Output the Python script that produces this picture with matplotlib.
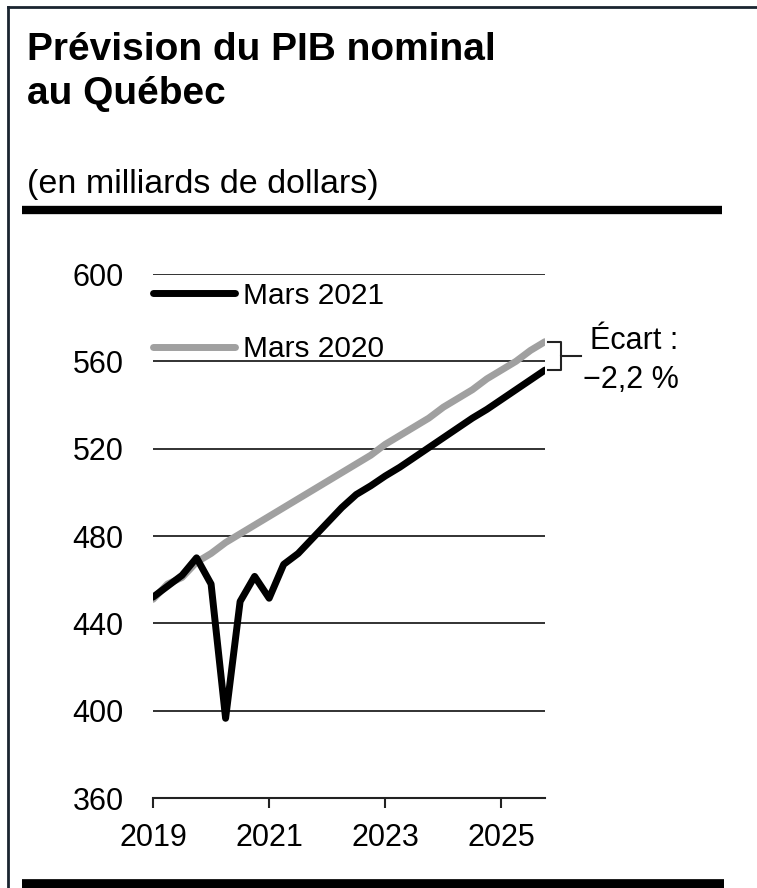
#!/usr/bin/env python3
# -*- coding: utf-8 -*-

import matplotlib
matplotlib.use('Agg')
import matplotlib.pyplot as plt
from matplotlib.lines import Line2D
import numpy as np

plt.rcParams['font.family'] = ['Liberation Sans', 'DejaVu Sans']

# Données trimestrielles 2019T1 - 2025T4 (en milliards de dollars)
trimestres = 2019 + np.arange(28) / 4
mars_2021 = [452, 457, 462, 470, 458, 396.5, 450, 461.5, 451.5, 467, 472, 479,
             486, 493, 499, 503, 507.5, 511.5, 516, 520.5, 525, 529.5, 534, 538,
             542.5, 547, 551.5, 556]
mars_2020 = [451, 458, 461, 468, 472, 477, 481, 485, 489, 493, 497, 501,
             505, 509, 513, 517, 522, 526, 530, 534, 539, 543, 547, 552,
             556, 560, 565, 569]
yticks = [360, 400, 440, 480, 520, 560, 600]
xticks = [2019, 2021, 2023, 2025]

W, H = 757, 888
fig = plt.figure(figsize=(W / 100, H / 100), dpi=100)

def fx(px):
    return px / W

def fy(py):
    return 1 - py / H

# cadre
fig.add_artist(Line2D([fx(8), fx(8)], [fy(7), 0], color='#1a2530', lw=2))
fig.add_artist(Line2D([fx(8), 1], [fy(7), fy(7)], color='#1a2530', lw=2))
fig.add_artist(Line2D([fx(22), fx(722)], [fy(210), fy(210)], color='black', lw=6, solid_capstyle='butt'))
fig.add_artist(Line2D([fx(22), fx(724)], [fy(884), fy(884)], color='black', lw=7, solid_capstyle='butt'))

fig.text(fx(27), fy(32), 'Prévision du PIB nominal\nau Québec', fontsize=28,
         fontweight='bold', va='top', ha='left', linespacing=1.3)
fig.text(fx(27), fy(184), '(en milliards de dollars)', fontsize=24.5, va='center', ha='left')

ax = fig.add_axes([fx(153), fy(798), fx(545) - fx(153), fy(274) - fy(798)])

ax.plot(trimestres, mars_2021, color='black', lw=5, label='Mars 2021',
        solid_joinstyle='round', solid_capstyle='round', zorder=3)
ax.plot(trimestres, mars_2020, color='#a0a0a0', lw=5, label='Mars 2020',
        solid_joinstyle='round', solid_capstyle='round', zorder=2)

ax.set_xlim(trimestres[0], trimestres[-1])
ax.set_ylim(yticks[0], yticks[-1])
ax.set_yticks(yticks)
ax.set_xticks(xticks)
ax.set_xticklabels([str(t) for t in xticks])
for y in yticks[1:]:
    ax.axhline(y, color='#222222', lw=1.3, zorder=1)

for s in ['top', 'right', 'left']:
    ax.spines[s].set_visible(False)
ax.spines['bottom'].set_linewidth(1.5)
ax.spines['bottom'].set_color('#222222')
ax.tick_params(axis='y', length=0, pad=21, labelsize=22)
ax.tick_params(axis='x', length=7, width=1.5, color='#222222', pad=11, labelsize=22, direction='out')

leg = ax.legend(loc='upper left', bbox_to_anchor=(0, 0.985), frameon=False, fontsize=21.5,
                handlelength=2.75, handletextpad=0.25, labelspacing=0.85, borderpad=0,
                borderaxespad=0)

# accolade de l'écart
x1 = trimestres[-1]
xs = x1 + 0.06
xb = x1 + 0.28
xt = x1 + 0.62
ym = (mars_2020[-1] + mars_2021[-1]) / 2
ax.plot([xs, xb, xb, xt], [mars_2020[-1], mars_2020[-1], ym, ym], color='#222222',
        lw=1.5, clip_on=False)
ax.plot([xs, xb, xb], [mars_2021[-1], mars_2021[-1], ym], color='#222222',
        lw=1.5, clip_on=False)
ax.text(x1 + 0.78, mars_2020[-1] + 0.5, 'Écart :', fontsize=22, va='center', ha='left')
ax.text(x1 + 0.66, mars_2021[-1] - 4.5, '−2,2 %', fontsize=22, va='center', ha='left')

fig.savefig('out.png', dpi=100)
